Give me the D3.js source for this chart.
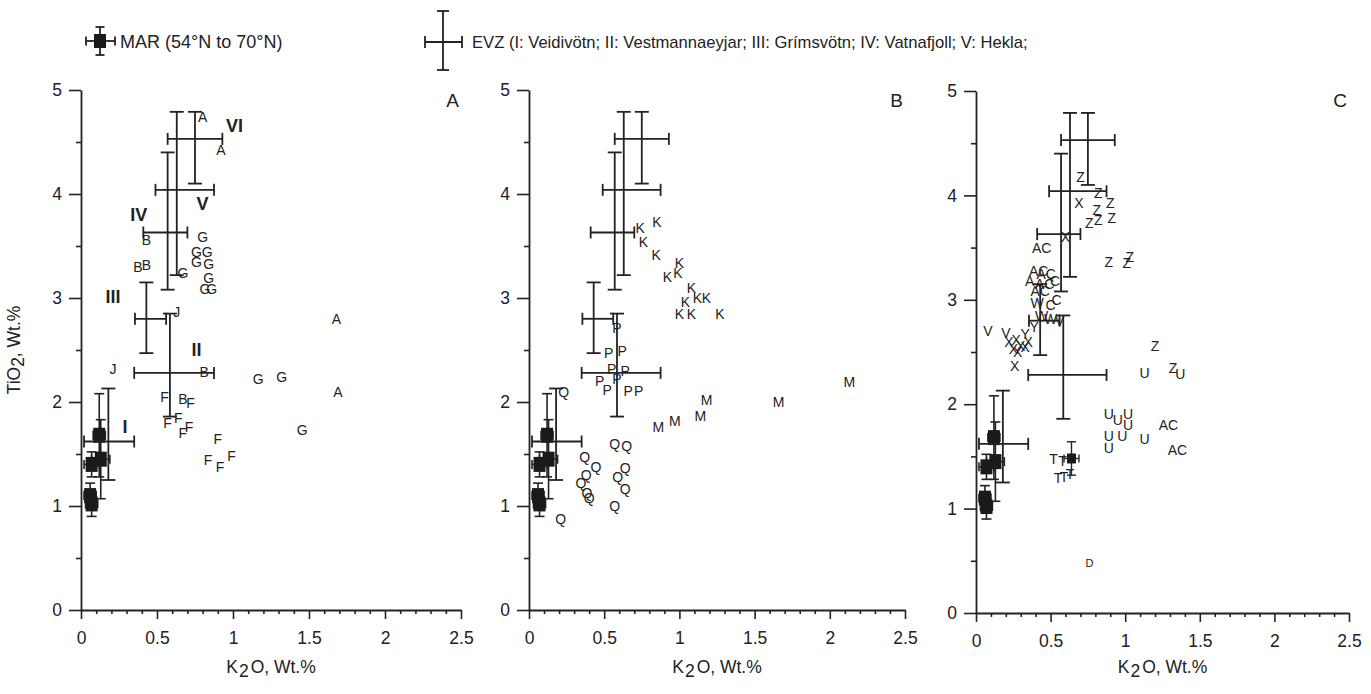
<!DOCTYPE html>
<html><head><meta charset="utf-8">
<script src="https://cdn.jsdelivr.net/npm/d3@7"></script>
<style>
body{margin:0;background:#fff}
svg{display:block}
text{font-family:"Liberation Sans",Arial,Helvetica,sans-serif;fill:#222}
</style>
</head><body>
<svg id="chart" width="1371" height="694"></svg>
<script>
// ---------- data ----------
const kTicks = [0, 0.5, 1, 1.5, 2, 2.5];
const kMinorTicks = [0.1,0.2,0.3,0.4,0.6,0.7,0.8,0.9,1.1,1.2,1.3,1.4,1.6,1.7,1.8,1.9,2.1,2.2,2.3,2.4];
const tiTicks = [0, 1, 2, 3, 4, 5];
const tiMinorTicks = [0.5, 1.5, 2.5, 3.5, 4.5];

// MAR averages: [K2O, TiO2, K2O err, TiO2 err]
const marPoints = [
  [0.12, 1.68, 0.04, 0.40],
  [0.13, 1.45, 0.06, 0.38],
  [0.07, 1.40, 0.05, 0.12],
  [0.06, 1.10, 0.04, 0.12],
  [0.07, 1.02, 0.04, 0.12]
];
// EVZ fields: [name, K2O, K2O low, K2O high, TiO2, TiO2 low, TiO2 high]
const evzCrosses = [
  ["I",   0.18, 0.02, 0.35, 1.62, 1.25, 2.13],
  ["II",  0.585,0.35, 0.875,2.28, 1.86, 2.85],
  ["III", 0.43, 0.355,0.56, 2.80, 2.47, 3.15],
  ["IV",  0.57, 0.41, 0.70, 3.63, 3.08, 4.40],
  ["V",   0.63, 0.49, 0.875,4.04, 3.22, 4.79],
  ["VI",  0.75, 0.57, 0.93, 4.53, 4.10, 4.79]
];
// roman numeral label anchors (panel A), [text, K2O, TiO2]
const evzLabels = [
  ["VI", 1.01, 4.66], ["V", 0.80, 3.91], ["IV", 0.38, 3.80],
  ["III", 0.21, 3.01], ["II", 0.76, 2.50], ["I", 0.29, 1.76]
];
// sample symbols: [letter, K2O, TiO2]
const aPoints = [
  ["A",0.80,4.74],["A",0.92,4.42],
  ["B",0.43,3.56],["B",0.375,3.30],["B",0.43,3.32],
  ["G",0.80,3.59],["G",0.76,3.44],["G",0.83,3.44],["G",0.76,3.35],["G",0.84,3.33],
  ["G",0.84,3.19],["G",0.815,3.09],["G",0.86,3.09],["G",0.67,3.24],
  ["J",0.63,2.87],["J",0.21,2.32],
  ["B",0.81,2.29],["B",0.67,2.03],
  ["G",1.165,2.22],["G",1.32,2.24],["G",1.455,1.73],
  ["A",1.68,2.80],["A",1.69,2.10],
  ["F",0.55,2.05],["F",0.72,1.99],["F",0.57,1.80],["F",0.64,1.85],["F",0.67,1.70],
  ["F",0.71,1.76],["F",0.90,1.64],["F",0.835,1.44],["F",0.915,1.38],["F",0.99,1.48]
];
const bPoints = [
  ["K",0.74,3.67],["K",0.85,3.73],["K",0.76,3.54],["K",0.845,3.41],["K",0.92,3.20],
  ["K",0.99,3.24],["K",1.00,3.34],["K",1.08,3.10],["K",1.04,2.96],["K",1.12,3.00],
  ["K",1.18,3.00],["K",1.00,2.85],["K",1.08,2.85],["K",1.27,2.85],
  ["P",0.585,2.71],["P",0.53,2.47],["P",0.62,2.49],["P",0.55,2.32],["P",0.64,2.30],
  ["P",0.47,2.20],["P",0.52,2.12],["P",0.585,2.22],["P",0.66,2.11],["P",0.73,2.11],
  ["M",0.86,1.76],["M",0.97,1.82],["M",1.14,1.87],["M",1.18,2.02],["M",1.66,2.00],["M",2.13,2.19],
  ["Q",0.23,2.10],["Q",0.57,1.60],["Q",0.65,1.58],["Q",0.37,1.47],["Q",0.445,1.38],
  ["Q",0.38,1.30],["Q",0.345,1.22],["Q",0.64,1.37],["Q",0.59,1.28],["Q",0.64,1.16],
  ["Q",0.385,1.13],["Q",0.40,1.08],["Q",0.57,1.00],["Q",0.21,0.88]
];
const cPoints = [
  ["Z",0.70,4.18],["Z",0.82,4.02],["Z",0.90,3.93],["Z",0.81,3.86],["Z",0.76,3.74],
  ["Z",0.82,3.76],["Z",0.91,3.78],["Z",0.89,3.36],["Z",1.01,3.35],["Z",1.03,3.41],
  ["Z",1.20,2.56],["Z",1.32,2.35],
  ["X",0.69,3.93],["X",0.60,3.60],
  ["AC",0.44,3.50],["AC",0.42,3.28],["AC",0.47,3.25],["A",0.36,3.18],["AC",0.46,3.15],
  ["C",0.53,3.18],["AC",0.43,3.08],["C",0.54,3.00],["C",0.50,2.95],["W",0.41,2.97],
  ["W",0.44,2.85],["W",0.50,2.82],["V",0.56,2.80],["Y",0.39,2.74],["Y",0.33,2.67],
  ["V",0.08,2.70],["V",0.20,2.68],
  ["X",0.22,2.60],["X",0.27,2.62],["X",0.30,2.56],["X",0.25,2.53],["X",0.33,2.55],
  ["X",0.35,2.60],["X",0.28,2.50],["X",0.26,2.37],
  ["U",1.13,2.30],["U",1.37,2.29],["U",0.89,1.91],["U",0.95,1.85],["U",1.02,1.91],
  ["U",1.02,1.80],["U",0.98,1.70],["U",0.89,1.70],["U",0.89,1.58],["U",1.13,1.67],
  ["AC",1.29,1.80],["AC",1.35,1.56],
  ["T",0.52,1.48],["T",0.58,1.46],["T",0.55,1.29],["T",0.59,1.30],["T",0.63,1.33]
];
const cFaint = [["D",0.76,0.48]];
// small averaged sample in C: [K2O, TiO2, K2O err, TiO2 err]
const cAvg = [[0.64, 1.48, 0.05, 0.16]];

// ---------- layout ----------
const panels = [
  {name:"A", x0:81,  x1:461,  y0:610, y1:90, pts:aPoints, roman:true},
  {name:"B", x0:529, x1:905,  y0:610, y1:90, pts:bPoints},
  {name:"C", x0:976, x1:1349, y0:613, y1:91, pts:cPoints, faint:cFaint, avg:cAvg}
];
const ink = "#222";
const svg = d3.select("#chart");

function drawBar(g, x1, y1, x2, y2, sw) {
  g.append("line").attr("x1",x1).attr("y1",y1).attr("x2",x2).attr("y2",y2)
    .attr("stroke",ink).attr("stroke-width",sw||1.8);
}
function errCross(g, cx, cy, xl, xr, yt, yb, capW, capH, sw) {
  drawBar(g, cx, yt, cx, yb, sw);
  drawBar(g, cx-capW/2, yt, cx+capW/2, yt, sw);
  drawBar(g, cx-capW/2, yb, cx+capW/2, yb, sw);
  drawBar(g, xl, cy, xr, cy, sw);
  drawBar(g, xl, cy-capH/2, xl, cy+capH/2, sw);
  drawBar(g, xr, cy-capH/2, xr, cy+capH/2, sw);
}

panels.forEach(p => {
  const x = d3.scaleLinear().domain([0,2.5]).range([p.x0,p.x1]);
  const y = d3.scaleLinear().domain([0,5]).range([p.y0,p.y1]);
  const g = svg.append("g");

  // axes
  const xMinor = d3.axisBottom(x).tickValues(kMinorTicks).tickSize(4).tickFormat("");
  const xMajor = d3.axisBottom(x).tickValues(kTicks).tickSizeInner(9).tickSizeOuter(0)
    .tickPadding(13).tickFormat(d => String(d));
  const yMinor = d3.axisLeft(y).tickValues(tiMinorTicks).tickSize(5).tickFormat("");
  const yMajor = d3.axisLeft(y).tickValues(tiTicks).tickSizeInner(12).tickSizeOuter(0)
    .tickPadding(7).tickFormat(d => String(d));
  [[xMinor,true],[xMajor,false]].forEach(([ax,minor]) => {
    const a = g.append("g").attr("transform",`translate(0,${p.y0})`).call(ax);
    if (minor) a.select(".domain").remove();
  });
  [[yMinor,true],[yMajor,false]].forEach(([ax,minor]) => {
    const a = g.append("g").attr("transform",`translate(${p.x0},0)`).call(ax);
    if (minor) a.select(".domain").remove();
  });
  g.selectAll(".domain").attr("stroke",ink).attr("stroke-width",1.8);
  g.selectAll(".tick line").attr("stroke",ink).attr("stroke-width",1.6);
  g.selectAll(".tick text").attr("font-size",17.5).attr("fill",ink)
    .attr("font-family",'"Liberation Sans",Arial,sans-serif');

  // x title
  const xt = g.append("text").attr("x",(p.x0+p.x1)/2).attr("y",673)
    .attr("text-anchor","middle").attr("font-size",17.5);
  xt.append("tspan").text("K");
  xt.append("tspan").attr("dy",4).attr("dx",1).text("2");
  xt.append("tspan").attr("dy",-4).attr("dx",2).text("O, Wt.%");

  // panel letter
  g.append("text").attr("x",p.x1-2).attr("y",107).attr("text-anchor","end")
    .attr("font-size",19).text(p.name);

  // MAR
  marPoints.forEach(([k,t,dk,dt]) => {
    errCross(g, x(k), y(t), x(k-dk), x(k+dk), y(t+dt), y(t-dt), 10, 9, 1.6);
  });
  marPoints.forEach(([k,t]) => {
    g.append("rect").attr("x",x(k)-6).attr("y",y(t)-7.5).attr("width",12).attr("height",15)
      .attr("fill","#1a1a1a");
  });

  // EVZ crosses
  evzCrosses.forEach(([n,k,kl,kh,t,tl,th]) => {
    errCross(g, x(k), y(t), x(kl), x(kh), y(th), y(tl), 14, 12, 1.8);
  });

  if (p.roman) {
    evzLabels.forEach(([n,k,t]) => {
      g.append("text").attr("x",x(k)).attr("y",y(t)).attr("dy","0.36em")
        .attr("text-anchor","middle").attr("font-size",18).attr("font-weight","bold").text(n);
    });
  }

  if (p.avg) {
    p.avg.forEach(([k,t,dk,dt]) => {
      errCross(g, x(k), y(t), x(k-dk), x(k+dk), y(t+dt), y(t-dt), 9, 8, 1.4);
      g.append("rect").attr("x",x(k)-4.5).attr("y",y(t)-5).attr("width",9).attr("height",10).attr("fill","#1a1a1a");
    });
  }

  // sample symbols
  g.selectAll("text.sym").data(p.pts).enter().append("text").attr("class","sym")
    .attr("x",d => x(d[1])).attr("y",d => y(d[2])).attr("dy","0.36em")
    .attr("text-anchor","middle").attr("font-size",14).attr("fill","#333").text(d => d[0]);
  if (p.faint) {
    g.selectAll("text.faint").data(p.faint).enter().append("text").attr("class","faint")
      .attr("x",d => x(d[1])).attr("y",d => y(d[2])).attr("dy","0.36em")
      .attr("text-anchor","middle").attr("font-size",11).attr("fill","#aaa").text(d => d[0]);
  }
});

// y title (panel A)
const yt = svg.append("text").attr("transform","translate(20,350) rotate(-90)")
  .attr("text-anchor","middle").attr("font-size",17.5);
yt.append("tspan").text("TiO");
yt.append("tspan").attr("dy",4).text("2");
yt.append("tspan").attr("dy",-4).text(", Wt.%");

// legend
const lg = svg.append("g");
errCross(lg, 100, 41, 86, 115, 27, 55, 9, 9, 1.8);
lg.append("rect").attr("x",94).attr("y",34).attr("width",12).attr("height",14).attr("fill","#1a1a1a");
lg.append("text").attr("x",120).attr("y",48).attr("font-size",18).text("MAR (54°N to 70°N)");
errCross(lg, 443, 42, 425, 462, 11, 70, 12, 12, 1.8);
lg.append("text").attr("x",472).attr("y",48).attr("font-size",16.6)
  .text("EVZ (I: Veidivötn; II: Vestmannaeyjar; III: Grímsvötn; IV: Vatnafjoll; V: Hekla;");
</script>
</body></html>
